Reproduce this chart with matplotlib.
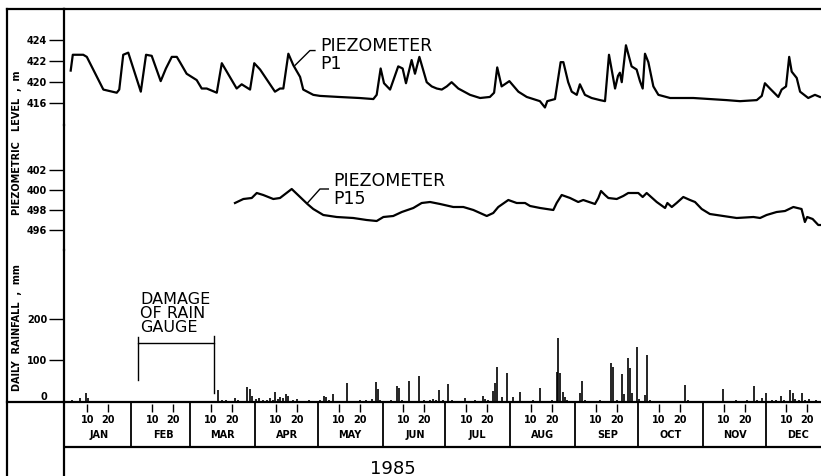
import numpy as np
import matplotlib
matplotlib.use("Agg")
import matplotlib.pyplot as plt
from matplotlib.lines import Line2D

# x axis = day of year 1985 (0 = 1 Jan)
month_names = ["JAN", "FEB", "MAR", "APR", "MAY", "JUN", "JUL", "AUG", "SEP", "OCT", "NOV", "DEC"]
month_start = [0, 31, 59, 90, 120, 151, 181, 212, 243, 273, 304, 334]

# piezometer P1 (m)
p1_day = [2.0, 3.0, 8.0, 9.7, 17.6, 24.0, 25.2, 27.1, 29.5, 35.5, 38.0, 40.7, 45.0, 47.5, 50.3,
          52.7, 54.2, 57.4, 60.6, 62.2, 64.6, 67.0, 71.8, 74.2, 81.3, 83.7, 87.7, 89.7, 92.5,
          99.6, 102.0, 103.6, 106.0, 108.4, 111.6, 113.1, 117.9, 121.1, 130.0, 140.0, 146.6,
          148.2, 150.1, 151.7, 154.6, 158.5, 160.6, 162.2, 164.9, 166.5, 168.6, 172.1, 174.5,
          176.9, 179.3, 181.7, 184.0, 187.2, 192.8, 197.6, 202.3, 204.3, 205.8, 207.9, 211.6,
          215.9, 219.9, 226.2, 228.6, 229.7, 233.4, 236.1, 237.4, 239.7, 241.4, 243.8, 245.3,
          247.7, 250.9, 254.9, 257.3, 259.2, 262.1, 263.5, 264.4, 265.3, 267.3, 270.0, 272.4,
          274.0, 275.3, 276.4, 278.0, 280.4, 282.8, 288.4, 299.5, 315.4, 321.8, 329.8, 332.2,
          333.7, 336.1, 340.1, 341.7, 343.8, 345.3, 346.5, 348.9, 350.5, 354.4, 357.6, 360.0]
p1_lvl = [421.1, 422.6, 422.6, 422.4, 419.3, 419.0, 419.3, 422.6, 422.8, 419.1, 422.6, 422.5, 420.1,
          421.3, 422.4, 422.4, 421.9, 420.8, 420.4, 420.2, 419.4, 419.4, 419.0, 421.8, 419.4,
          419.8, 419.3, 421.8, 421.2, 419.1, 419.4, 419.4, 422.7, 421.6, 420.5, 419.3, 418.8,
          418.7, 418.6, 418.5, 418.4, 418.8, 421.3, 419.9, 419.3, 421.5, 421.3, 419.9, 422.1,
          420.8, 422.4, 420.0, 419.6, 419.4, 419.3, 419.6, 420.0, 419.4, 418.8, 418.5, 418.6,
          419.0, 421.4, 419.6, 420.1, 419.1, 418.6, 418.2, 417.6, 418.2, 418.4, 421.9, 421.9,
          420.0, 419.1, 418.8, 419.8, 418.8, 418.5, 418.3, 418.2, 422.6, 419.4, 420.6, 420.9,
          420.0, 423.5, 421.5, 421.2, 420.1, 419.4, 422.7, 421.9, 419.6, 418.8, 418.5, 418.5,
          418.3, 418.2, 418.3, 418.7, 419.9, 419.4, 418.6, 419.3, 419.6, 422.4, 421.0, 420.4,
          419.1, 418.5, 418.8, 418.6]

# piezometer P15 (m)
p15_day = [80.5, 84.5, 88.5, 90.9, 94.0, 98.8, 102.0, 107.6, 111.6, 115.1, 117.9, 122.7, 129.1,
           137.0, 143.4, 148.2, 151.4, 156.1, 160.2, 165.7, 169.7, 173.7, 178.5, 184.8, 189.6,
           194.4, 200.8, 203.9, 206.3, 211.1, 215.1, 219.1, 221.5, 226.3, 232.6, 234.2, 236.6,
           240.6, 244.5, 246.9, 252.5, 254.1, 255.4, 257.3, 258.9, 262.9, 266.0, 268.4, 273.2,
           275.3, 277.2, 282.0, 286.0, 287.1, 289.2, 291.5, 294.7, 297.9, 300.3, 303.5, 307.4,
           313.8, 320.2, 328.2, 331.4, 334.5, 339.3, 343.3, 347.3, 351.2, 352.8, 353.9, 356.5,
           359.2, 361.0]
p15_lvl = [398.7, 399.1, 399.2, 399.7, 399.5, 399.1, 399.2, 400.1, 399.3, 398.6, 398.1, 397.5,
           397.3, 397.2, 397.0, 396.9, 397.3, 397.4, 397.8, 398.2, 398.7, 398.8, 398.6, 398.3,
           398.3, 398.0, 397.4, 397.7, 398.3, 399.0, 398.7, 398.7, 398.4, 398.2, 398.0, 398.7,
           399.5, 399.2, 398.8, 399.0, 398.6, 399.2, 399.9, 399.5, 399.2, 399.1, 399.4, 399.7,
           399.7, 399.3, 399.7, 398.8, 398.2, 398.7, 398.3, 398.7, 399.3, 399.0, 398.8, 398.1,
           397.6, 397.4, 397.2, 397.3, 397.2, 397.5, 397.8, 397.9, 398.3, 398.1, 396.8, 397.3,
           397.1, 396.5, 396.5]

# daily rainfall (mm)
rain_day = [2.5, 6.5, 9.3, 10.4, 13, 17, 22,
            72.5, 74.5, 76, 78, 80.5, 82, 86.4, 87.5, 88.8, 90.5, 92, 94, 96, 97.2, 98.5, 99.6,
            101, 102, 103.5, 104.9, 106, 108, 110, 113, 116, 119, 121, 123.2, 124, 125.5, 127.2,
            130, 133.9, 137, 140, 143, 146, 147.9, 148.7, 150, 153, 155, 158.1, 159.1, 160.5,
            163.8, 166, 168.3, 171, 173.6, 175, 176.5, 178.1, 180, 182.4, 184, 187, 190.4, 192,
            195, 199.1, 200, 201.5, 203.9, 204.7, 205.5, 208, 210.6, 213.5, 216.7, 220, 223,
            226.2, 229, 232, 234.2, 235.0, 235.8, 237, 238, 239, 242, 245.3, 246.1, 247.5, 250,
            255, 258, 260.0, 261, 263, 265.3, 266.5, 268.5, 269.3, 270.2, 272.4, 273.5, 276.3,
            277.5, 279, 283, 288, 295.5, 297, 305, 313.5, 316, 320, 325, 328.6, 330, 332.1, 334,
            337, 339, 341.4, 343, 345.7, 347, 348.2, 350, 351.3, 353, 355, 358]
rain_mm = [4, 9, 22, 10, 3, 2, 3,
           29, 4, 5, 3, 9, 4, 35, 31, 14, 7, 9, 5, 6, 9, 6, 25,
           8, 13, 10, 19, 14, 5, 7, 3, 4, 3, 5, 15, 13, 4, 19,
           3, 45, 3, 4, 5, 7, 49, 31, 5, 3, 4, 39, 33, 6,
           51, 3, 63, 4, 6, 8, 5, 29, 4, 43, 5, 3, 9, 3,
           4, 14, 8, 5, 26, 45, 84, 13, 71, 11, 25, 3, 4,
           33, 3, 4, 73, 153, 69, 25, 12, 6, 3, 22, 51, 6, 3,
           4, 3, 93, 84, 5, 67, 20, 105, 81, 22, 133, 8, 17,
           113, 5, 3, 2, 41, 4, 3, 31, 3, 4, 5, 39, 4, 10, 22,
           6, 5, 14, 6, 29, 22, 8, 4, 22, 5, 8, 4]

# rain gauge out of order
damage_start, damage_end = 34.3, 70.3

W, H = 821, 476
fig = plt.figure(figsize=(W / 100, H / 100), dpi=100)
plt.rcParams['font.family'] = ['DejaVu Sans']

XL = (-1.2, 360.5)
left = 64 / W
width = 1 - left


def add_ax(top_px, bot_px):
    ax = fig.add_axes([left, 1 - bot_px / H, width, (bot_px - top_px) / H])
    for s in ["top", "right", "bottom"]:
        ax.spines[s].set_visible(False)
    ax.spines["left"].set_linewidth(1.6)
    ax.set_xlim(*XL)
    ax.set_xticks([])
    ax.patch.set_visible(False)
    ax.tick_params(axis="y", length=11, width=1.0, pad=1, labelsize=7)
    for lab in ax.get_yticklabels():
        lab.set_fontweight("bold")
    return ax


lw_curve = 1.6

# P1 panel
ax1 = add_ax(9, 125)
ax1.spines["top"].set_visible(True)
ax1.spines["top"].set_linewidth(1.6)
ax1.set_ylim(415.94, 426.94)
ax1.plot(p1_day, p1_lvl, color="black", lw=lw_curve)
ax1.set_yticks([418, 420, 422, 424])
ax1.set_yticklabels(["416", "420", "422", "424"], fontweight="bold", fontsize=7)
ax1.plot([109.2, 116.3, 118.7], [421.6, 423.0, 423.0], color="black", lw=1.0)
ax1.text(121.1, 424.25, "PIEZOMETER\nP1", fontsize=12.5, va="top", ha="left", linespacing=0.95)

# P15 panel
ax2 = add_ax(125, 250)
ax2.set_ylim(394, 406.5)
ax2.plot(p15_day, p15_lvl, color="black", lw=lw_curve)
ax2.set_yticks([396, 398, 400, 402])
ax2.set_yticklabels(["496", "498", "400", "402"], fontweight="bold", fontsize=7)
ax2.plot([115.0, 121.1, 125.1], [398.67, 400.1, 400.1], color="black", lw=1.0)
ax2.text(127.5, 401.75, "PIEZOMETER\nP15", fontsize=12.5, va="top", ha="left", linespacing=0.95)

# rainfall panel
ax3 = add_ax(250, 402)
ax3.spines["bottom"].set_visible(True)
ax3.spines["bottom"].set_linewidth(1.6)
ax3.set_ylim(0, 366)
ax3.vlines(rain_day, 0, rain_mm, color="black", lw=1.2)
ax3.set_yticks([0, 100, 200])
ax3.set_yticklabels(["0", "100", "200"], fontweight="bold", fontsize=7)
ax3.yaxis.get_major_ticks()[0].tick1line.set_visible(False)
ax3.yaxis.get_major_ticks()[0].label1.set_verticalalignment("bottom")
ax3.plot([damage_start, damage_start, damage_end, damage_end], [53, 143, 143, 22], color="black", lw=1.0)
ax3.plot([damage_start, damage_start], [143, 156], color="black", lw=1.0)
ax3.plot([damage_end, damage_end], [143, 159], color="black", lw=1.0)
ax3.text(damage_start + 0.8, 264, "DAMAGE\nOF RAIN\nGAUGE", fontsize=11.5, va="top", ha="left",
         linespacing=0.9)

# month strip
ax4 = add_ax(402, 476)
ax4.set_ylim(0, 1)
ax4.set_yticks([])
box_bot = 1 - 45 / 74
ax4.vlines(month_start[1:], box_bot, 1, color="black", lw=1.3)
ax4.axhline(box_bot, color="black", lw=1.6)
for m, s in zip(month_names, month_start):
    ax4.vlines([s + 10, s + 20], 0.86, 0.97, color="black", lw=1.0)
    ax4.text(s + 10, 0.76, "10", fontsize=7, fontweight="bold", ha="center", va="center")
    ax4.text(s + 20, 0.76, "20", fontsize=7, fontweight="bold", ha="center", va="center")
    ax4.text(s + 15.5, 0.56, m, fontsize=7, fontweight="bold", ha="center", va="center")
ax4.text(156, 0.1, "1985", fontsize=13, ha="center", va="center")

# outer frame + extended baseline
fx = 7 / W
fig.add_artist(Line2D([fx, fx], [0, 1 - 9 / H], color="black", lw=1.6))
fig.add_artist(Line2D([fx, left], [1 - 9 / H, 1 - 9 / H], color="black", lw=1.6))
fig.add_artist(Line2D([fx, left], [1 - 402 / H, 1 - 402 / H], color="black", lw=1.6))

fig.text(17 / W, 1 - 143 / H, "PIEZOMETRIC   LEVEL  ,  m", rotation=90, fontsize=7,
         fontweight="bold", ha="center", va="center")
fig.text(17 / W, 1 - 328 / H, "DAILY  RAINFALL  ,  mm", rotation=90, fontsize=7,
         fontweight="bold", ha="center", va="center")

fig.savefig("out.png", dpi=100)
